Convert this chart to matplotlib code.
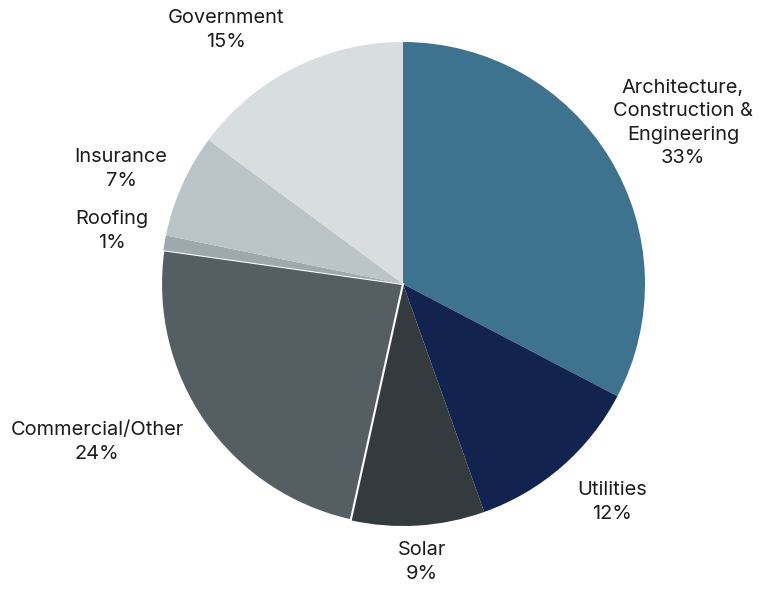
import matplotlib
matplotlib.use("Agg")
import matplotlib.pyplot as plt

# Share of customers by industry segment
segments = [
    "Architecture,\nConstruction &\nEngineering",
    "Utilities",
    "Solar",
    "Commercial/Other",
    "Roofing",
    "Insurance",
    "Government",
]
shares = [33, 12, 9, 24, 1, 7, 15]

colors = ["#3e7390", "#132350", "#343b3e", "#555f63", "#9ea9ad", "#bbc5c9", "#d8dde0"]

# label anchor points, in pie-radius units relative to the centre
label_xy = [
    (1.157, 0.665),
    (0.864, -0.901),
    (0.079, -1.149),
    (-1.264, -0.653),
    (-1.202, 0.219),
    (-1.165, 0.475),
    (-0.731, 1.050),
]

W, H = 768, 590
fig = plt.figure(figsize=(W / 100, H / 100), dpi=100)
cx, cy, r = 403, 284, 242
ax = fig.add_axes([(cx - r) / W, (H - cy - r) / H, 2 * r / W, 2 * r / H])

wedges, _ = ax.pie(
    shares,
    colors=colors,
    startangle=90,
    counterclock=False,
    radius=1.0,
    wedgeprops=dict(linewidth=0),
)
# the Commercial/Other slice is outlined in white
wedges[3].set_edgecolor("white")
wedges[3].set_linewidth(1.5)

ax.set_xlim(-1, 1)
ax.set_ylim(-1, 1)
ax.set_aspect("auto")
ax.axis("off")

for name, val, (x, y) in zip(segments, shares, label_xy):
    ax.text(x, y, f"{name}\n{val}%", ha="center", va="center",
            fontsize=14.4, family="Inter", color="#1c1c1c",
            linespacing=1.4, clip_on=False)

fig.savefig("out.png", dpi=100)
